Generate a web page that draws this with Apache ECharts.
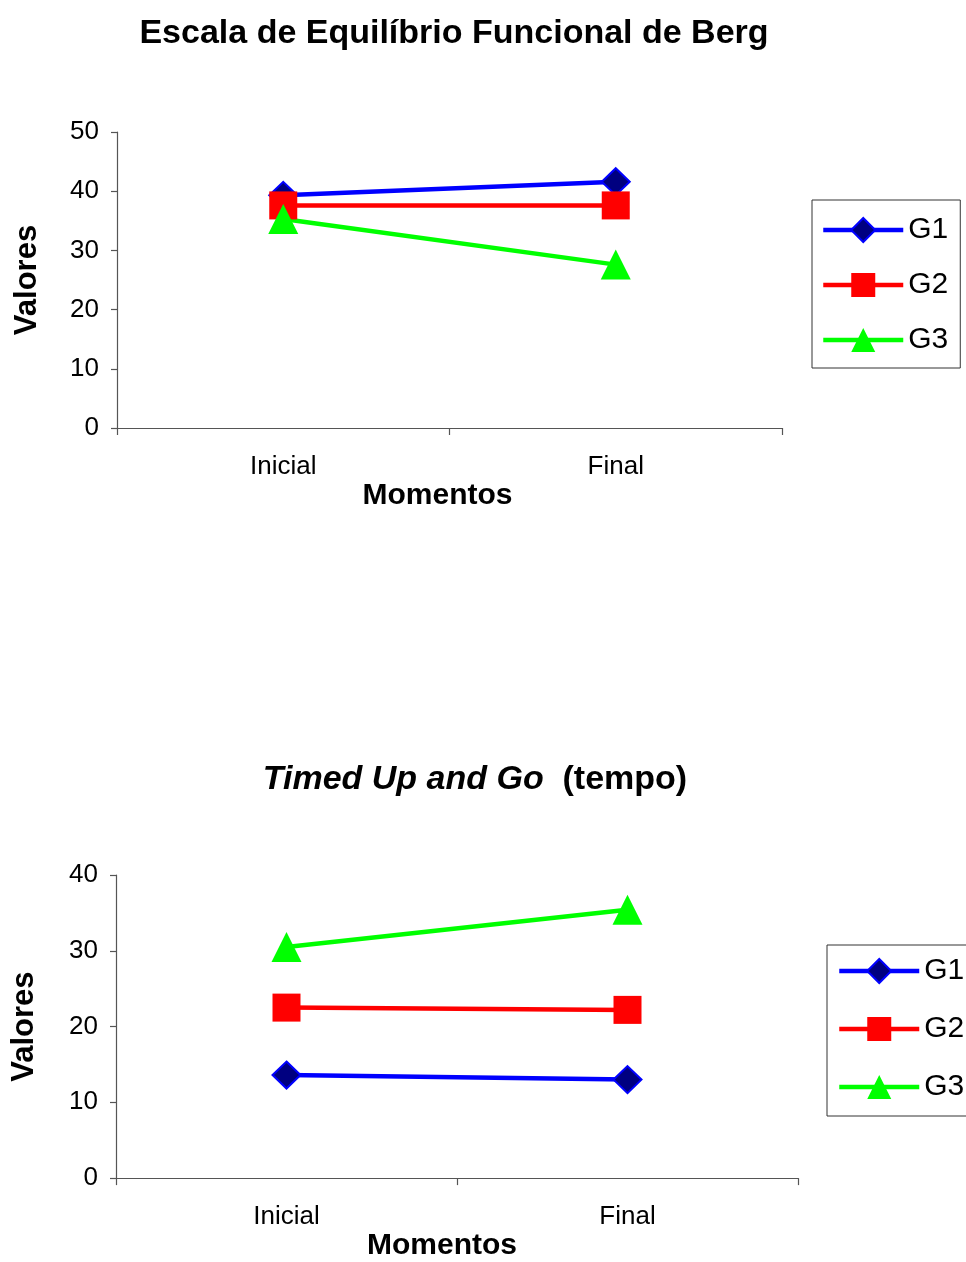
<!DOCTYPE html>
<html>
<head>
<meta charset="utf-8">
<script src="https://cdn.jsdelivr.net/npm/echarts@6/dist/echarts.min.js"></script>
<style>
html,body{margin:0;padding:0;background:#fff;}
#chart{width:966px;height:1262px;}
</style>
</head>
<body>
<div id="chart"></div>
<script>
// ---- data ----
const categories = ['Inicial', 'Final'];
const seriesNames = ['G1', 'G2', 'G3'];
const bergG1 = [39.3, 41.6];
const bergG2 = [37.6, 37.6];
const bergG3 = [35.3, 27.6];
const tugG1 = [13.6, 13.0];
const tugG2 = [22.5, 22.2];
const tugG3 = [30.5, 35.4];
const bergTitle = 'Escala de Equilíbrio Funcional de Berg';
const tugTitleItalic = 'Timed Up and Go';
const tugTitleRest = '(tempo)';
const yName = 'Valores';
const xName = 'Momentos';

const FONT = 'Liberation Sans, Arial, sans-serif';
const AXIS_COLOR = '#555';

const styles = [
  { color: '#0000FF', symbol: 'diamond', size: [28, 27], fill: '#000080', border: '#0000FF', bw: 2 },
  { color: '#FF0000', symbol: 'rect', size: [28, 28], fill: '#FF0000', border: '#FF0000', bw: 0 },
  { color: '#00FF00', symbol: 'triangle', size: [30, 30], fill: '#00FF00', border: '#00FF00', bw: 0 }
];

function mkSeries(name, data, idx, s) {
  return {
    name: name, type: 'line', data: data,
    xAxisIndex: idx, yAxisIndex: idx,
    symbol: s.symbol, symbolSize: s.size,
    lineStyle: { color: s.color, width: 4.5 },
    itemStyle: { color: s.fill, borderColor: s.border, borderWidth: s.bw },
    animation: false, legendHoverLink: false
  };
}

function xAxisCfg(gi, nameGap, namePad) {
  return {
    type: 'category', gridIndex: gi, data: categories, boundaryGap: true,
    name: xName, nameLocation: 'middle', nameGap: nameGap,
    nameTextStyle: { fontFamily: FONT, fontWeight: 'bold', fontSize: 30, color: '#000', padding: namePad },
    axisLine: { show: true, lineStyle: { color: AXIS_COLOR, width: 1.2 } },
    axisTick: { show: true, length: 7, lineStyle: { color: AXIS_COLOR, width: 1.2 } },
    axisLabel: { fontFamily: FONT, fontSize: 26, color: '#000', margin: 26 },
    splitLine: { show: false }
  };
}
function yAxisCfg(gi, max, nameGap) {
  return {
    type: 'value', gridIndex: gi, min: 0, max: max, interval: 10,
    name: yName, nameLocation: 'middle', nameGap: nameGap, nameRotate: 90,
    nameTextStyle: { fontFamily: FONT, fontWeight: 'bold', fontSize: 31, color: '#000' },
    axisLine: { show: true, lineStyle: { color: AXIS_COLOR, width: 1.2 } },
    axisTick: { show: true, length: 6, lineStyle: { color: AXIS_COLOR, width: 1.2 } },
    axisLabel: { fontFamily: FONT, fontSize: 26, color: '#000', margin: 18 },
    splitLine: { show: false }
  };
}
function legendCfg(left, top, pad, gap) {
  return {
    orient: 'vertical', left: left, top: top,
    data: seriesNames.map(n => ({ name: n })),
    padding: pad, itemGap: gap,
    itemWidth: 80, itemHeight: 30,
    borderColor: '#333', borderWidth: 1,
    selectedMode: false,
    lineStyle: { width: 4.5 },
    textStyle: { fontFamily: FONT, fontSize: 30, color: '#000', lineHeight: 30, padding: [0, 0, 0, 0] }
  };
}

const chart = echarts.init(document.getElementById('chart'), null, { renderer: 'canvas' });
chart.setOption({
  backgroundColor: '#fff',
  animation: false,
  title: [
    {
      text: bergTitle, left: 449, top: 12, textAlign: 'center',
      textStyle: { fontFamily: FONT, fontWeight: 'bold', fontSize: 34, color: '#000' }
    },
    {
      text: '{a|' + tugTitleItalic + '}{b|  ' + tugTitleRest + '}', left: 470, top: 758, textAlign: 'center',
      textStyle: {
        fontFamily: FONT, fontWeight: 'bold', fontSize: 34, color: '#000',
        rich: {
          a: { fontFamily: FONT, fontWeight: 'bold', fontStyle: 'italic', fontSize: 34, color: '#000' },
          b: { fontFamily: FONT, fontWeight: 'bold', fontSize: 34, color: '#000' }
        }
      }
    }
  ],
  grid: [
    { left: 117, top: 132, width: 665, height: 296, containLabel: false },
    { left: 116, top: 875, width: 682, height: 305, containLabel: false }
  ],
  xAxis: [xAxisCfg(0, 51, [0, 24, 0, 0]), xAxisCfg(1, 52, [0, 30, 0, 0])],
  yAxis: [yAxisCfg(0, 50, 74), yAxisCfg(1, 40, 76)],
  legend: [
    legendCfg(812, 200, [15, 12, 13, 9], 25),
    legendCfg(827, 945, [11, 40, 14, 10], 28)
  ],
  series: [
    mkSeries('G1', bergG1, 0, styles[0]),
    mkSeries('G2', bergG2, 0, styles[1]),
    mkSeries('G3', bergG3, 0, styles[2]),
    mkSeries('G1', tugG1, 1, styles[0]),
    mkSeries('G2', tugG2, 1, styles[1]),
    mkSeries('G3', tugG3, 1, styles[2])
  ]
});
</script>
</body>
</html>
